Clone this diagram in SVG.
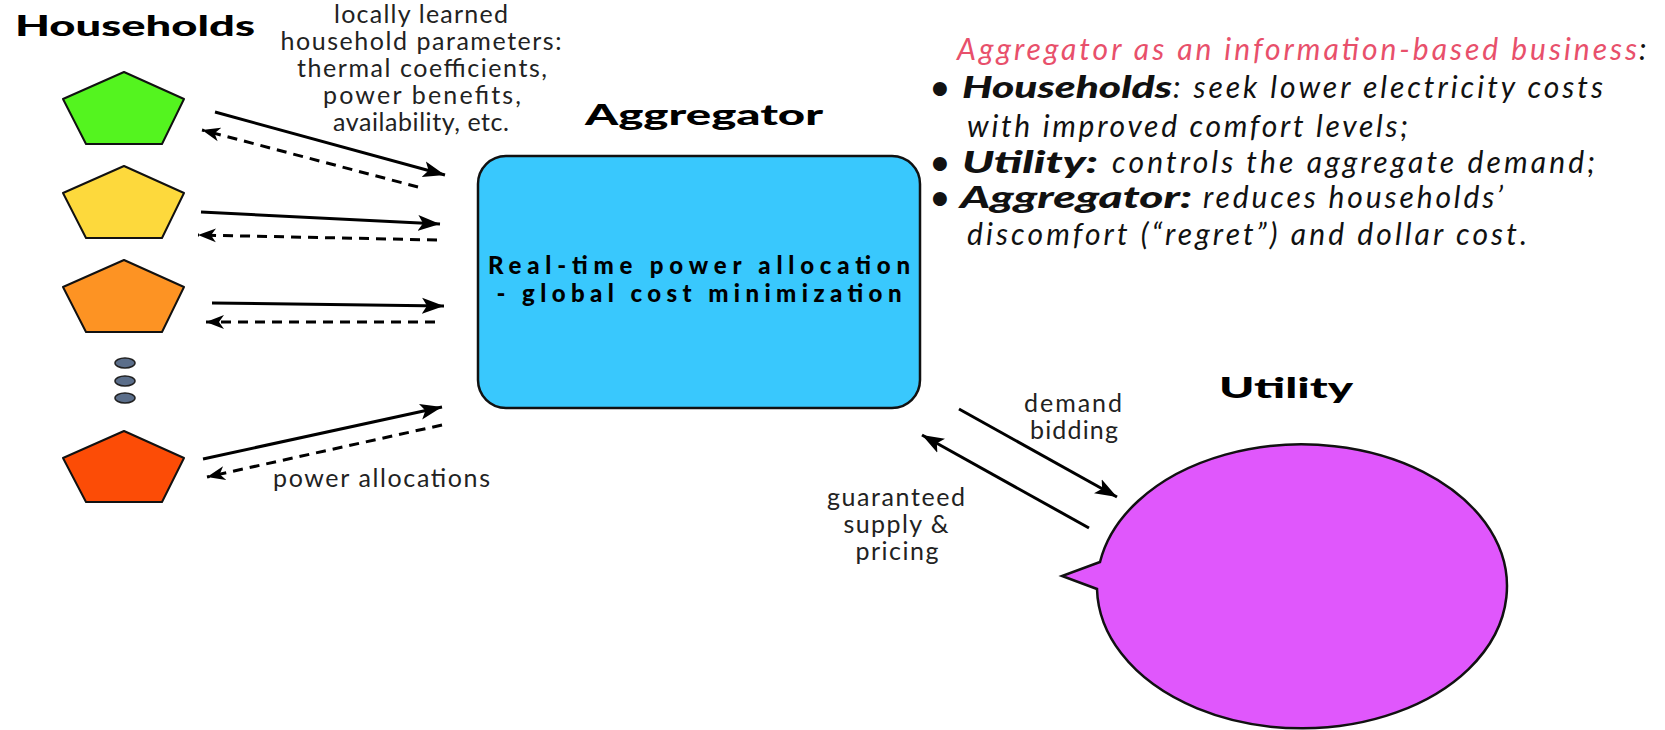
<svg xmlns="http://www.w3.org/2000/svg" width="1665" height="730" viewBox="0 0 1665 730">
<style>
  .lbl { font-family: Lato, "Liberation Sans", sans-serif; font-size: 25px; fill: #222; }
  .head { font-family: Lato, "Liberation Sans", sans-serif; font-weight: 900; font-size: 28px; fill: #000; }
  .inner { font-family: Lato, "Liberation Sans", sans-serif; font-weight: 900; font-size: 24px; fill: #000; }
  .note { font-family: Lato, "Liberation Sans", sans-serif; font-style: italic; font-size: 30px; fill: #111; }
  .nb { font-weight: 900; }
  .pink { fill: #e8506b; }
  .pent { stroke: #111; stroke-width: 2; stroke-linejoin: round; }
  .solid { stroke: #000; stroke-width: 3; fill: none; marker-end: url(#ah); }
  .dash { stroke: #000; stroke-width: 3; fill: none; stroke-dasharray: 10 7; marker-end: url(#ahs); }
</style>
<defs>
  <marker id="ah" markerUnits="userSpaceOnUse" markerWidth="24" markerHeight="18" refX="22" refY="9" orient="auto">
    <path d="M0,1 L22,9 L0,17 L5,9 Z" fill="#000"/>
  </marker>
  <marker id="ahs" markerUnits="userSpaceOnUse" markerWidth="20" markerHeight="16" refX="18" refY="8" orient="auto">
    <path d="M0,1 L18,8 L0,15 L5,8 Z" fill="#000"/>
  </marker>
</defs>
<rect width="1665" height="730" fill="#fff"/>

<g id="households">
  <text class="head" x="15" y="36" textLength="240" lengthAdjust="spacingAndGlyphs">Households</text>
</g>
<g id="house1"><polygon class="pent" fill="#54f41f" points="124,72 184,99 162,144 86,144 63,99"/></g>
<g id="house2"><polygon class="pent" fill="#fdd93c" points="124,166 184,193 162,238 86,238 63,193"/></g>
<g id="house3"><polygon class="pent" fill="#fd9323" points="124,260 184,287 162,332 86,332 63,287"/></g>
<g id="ellipsis">
  <ellipse cx="125" cy="363" rx="10" ry="5" fill="#5b6e8a" stroke="#222" stroke-width="1.5"/>
  <ellipse cx="125" cy="381" rx="10" ry="5" fill="#5b6e8a" stroke="#222" stroke-width="1.5"/>
  <ellipse cx="125" cy="398" rx="10" ry="5" fill="#5b6e8a" stroke="#222" stroke-width="1.5"/>
</g>
<g id="house4"><polygon class="pent" fill="#fc4c06" points="124,431 184,458 162,502 86,502 63,458"/></g>

<g id="aggregator">
  <text class="head" x="585" y="125" textLength="238" lengthAdjust="spacingAndGlyphs">Aggregator</text>
  <rect x="478" y="156" width="442" height="252" rx="28" ry="28" fill="#39c8fd" stroke="#111" stroke-width="2.5"/>
  <text class="inner" x="699" y="274" text-anchor="middle" textLength="422">Real-time power allocation</text>
  <text class="inner" x="699" y="302" text-anchor="middle" textLength="405">- global cost minimization</text>
</g>

<g id="utility">
  <text class="head" x="1219" y="398" textLength="134" lengthAdjust="spacingAndGlyphs">Utility</text>
  <path d="M1100,562 L1062,576 L1097,589 A205,142 0 1 0 1100,562 Z" fill="#e057fc" stroke="#111" stroke-width="2.5" stroke-linejoin="miter"/>
</g>

<g id="connectors">
  <line class="solid" x1="215" y1="112" x2="445" y2="175"/>
  <line class="dash" x1="418" y1="187" x2="202" y2="130"/>
  <line class="solid" x1="201" y1="212" x2="440" y2="224"/>
  <line class="dash" x1="437" y1="240" x2="198" y2="235"/>
  <line class="solid" x1="212" y1="303" x2="444" y2="306"/>
  <line class="dash" x1="435" y1="322" x2="206" y2="322"/>
  <line class="solid" x1="203" y1="459" x2="442" y2="407"/>
  <line class="dash" x1="442" y1="425" x2="207" y2="477"/>
  <line class="solid" x1="959" y1="409" x2="1117" y2="497"/>
  <line class="solid" x1="1089" y1="528" x2="922" y2="435"/>
</g>

<g id="labels">
  <text class="lbl" x="421" y="23" text-anchor="middle" textLength="174">locally learned</text>
  <text class="lbl" x="421" y="50" text-anchor="middle" textLength="281">household parameters:</text>
  <text class="lbl" x="422" y="77" text-anchor="middle" textLength="250">thermal coefficients,</text>
  <text class="lbl" x="422" y="104" text-anchor="middle" textLength="198">power benefits,</text>
  <text class="lbl" x="421" y="131" text-anchor="middle" textLength="176">availability, etc.</text>
  <text class="lbl" x="273" y="487" textLength="217">power allocations</text>
  <text class="lbl" x="1073" y="412" text-anchor="middle" textLength="98">demand</text>
  <text class="lbl" x="1074" y="439" text-anchor="middle" textLength="88">bidding</text>
  <text class="lbl" x="896" y="506" text-anchor="middle" textLength="138">guaranteed</text>
  <text class="lbl" x="896" y="533" text-anchor="middle" textLength="105">supply &amp;</text>
  <text class="lbl" x="897" y="560" text-anchor="middle" textLength="83">pricing</text>
</g>

<g id="notes">
  <text class="note pink" x="957" y="60" textLength="680">Aggregator as an information-based business</text>
  <text class="note" x="1639" y="60">:</text>
  <text class="note nb" x="940" y="98" text-anchor="middle">•</text>
  <text class="note nb" x="962" y="98" textLength="210" lengthAdjust="spacingAndGlyphs">Households</text>
  <text class="note" x="1173" y="98" textLength="430">: seek lower electricity costs</text>
  <text class="note" x="967" y="137" textLength="441">with improved comfort levels;</text>
  <text class="note nb" x="940" y="173" text-anchor="middle">•</text>
  <text class="note nb" x="962" y="173" textLength="136" lengthAdjust="spacingAndGlyphs">Utility:</text>
  <text class="note" x="1112" y="173" textLength="483">controls the aggregate demand;</text>
  <text class="note nb" x="940" y="208" text-anchor="middle">•</text>
  <text class="note nb" x="960" y="208" textLength="232" lengthAdjust="spacingAndGlyphs">Aggregator:</text>
  <text class="note" x="1203" y="208" textLength="300">reduces households’</text>
  <text class="note" x="967" y="245" textLength="560">discomfort (“regret”) and dollar cost.</text>
</g>
</svg>
